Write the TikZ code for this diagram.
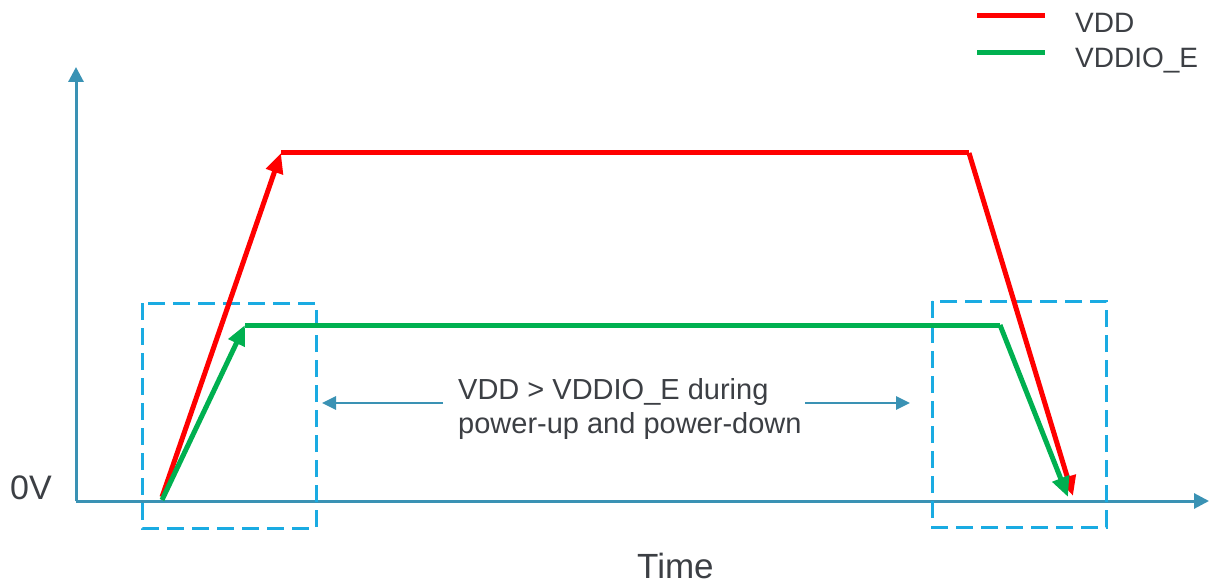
\documentclass[tikz,border=0pt]{standalone}
\usepackage{fontspec}
\setmainfont{Liberation Sans}
\usetikzlibrary{arrows.meta}
\definecolor{vddred}{HTML}{FF0000}
\definecolor{vddgreen}{HTML}{00B050}
\definecolor{axisblue}{HTML}{3A92B4}
\definecolor{boxblue}{HTML}{1AABE2}
\definecolor{txtgray}{HTML}{3C3F44}
\begin{document}
\begin{tikzpicture}[x=1pt,y=-1pt,
  rail/.style={line width=5pt},
  railtip/.style={rail,-{Triangle[length=20pt,width=17pt]}},
  axisline/.style={draw=axisblue,line width=3pt,-{Triangle[length=15pt,width=15pt]}},
  zonebox/.style={draw=boxblue,line width=3pt,dash pattern=on 17pt off 8pt},
  notearrow/.style={draw=axisblue,line width=2.6pt,-{Triangle[length=14pt,width=13pt]}},
  lbl/.style={text=txtgray,inner sep=0pt,anchor=base west}]
\useasboundingbox (0,0) rectangle (1212,585);
% axes
\coordinate (org) at (76,501);
\coordinate (ytop) at (76,67);
\coordinate (xend) at (1209,501);
\draw[axisline] (org) -- (ytop);
\draw[axisline] (org) -- (xend);
% dashed zones
\draw[zonebox] (142,303) rectangle (316,528);
\draw[zonebox] (932,301) rectangle (1106,527);
% VDD
\coordinate (r0) at (162,497);
\coordinate (r1) at (281,153);
\coordinate (r2) at (969,153);
\coordinate (r3) at (1073,496);
\draw[railtip,vddred] (r0) -- (r1);
\draw[rail,vddred] (r1) -- (r2);
\draw[railtip,vddred] (r2) -- (r3);
% VDDIO_E
\coordinate (g0) at (162,500);
\coordinate (g1) at (245,325);
\coordinate (g2) at (1000,325);
\coordinate (g3) at (1068,497);
\draw[railtip,vddgreen] (g0) -- (g1);
\draw[rail,vddgreen] (g1) -- (g2);
\draw[railtip,vddgreen] (g2) -- (g3);
% note
\node[lbl,font=\fontsize{29}{34}\selectfont] (note1) at (458,399) {VDD > VDDIO\_E during};
\node[lbl,font=\fontsize{29}{34}\selectfont] (note2) at (458,433) {power-up and power-down};
\coordinate (la0) at (443,403);
\coordinate (la1) at (322,403);
\coordinate (ra0) at (805,403);
\coordinate (ra1) at (910,403);
\draw[notearrow] (la0) -- (la1);
\draw[notearrow] (ra0) -- (ra1);
% labels
\node[lbl,font=\fontsize{34}{40}\selectfont] (zero) at (10,499) {0V};
\node[lbl,font=\fontsize{35}{42}\selectfont] (time) at (637,578) {Time};
% legend
\coordinate (lr0) at (977,16);
\coordinate (lr1) at (1045,16);
\coordinate (lg0) at (977,53);
\coordinate (lg1) at (1045,53);
\draw[rail,vddred] (lr0) -- (lr1);
\draw[rail,vddgreen] (lg0) -- (lg1);
\node[lbl,font=\fontsize{28}{34}\selectfont] (lv) at (1075,33) {VDD};
\node[lbl,font=\fontsize{28}{34}\selectfont] (lio) at (1075,68) {VDDIO\_E};
\end{tikzpicture}
\end{document}
